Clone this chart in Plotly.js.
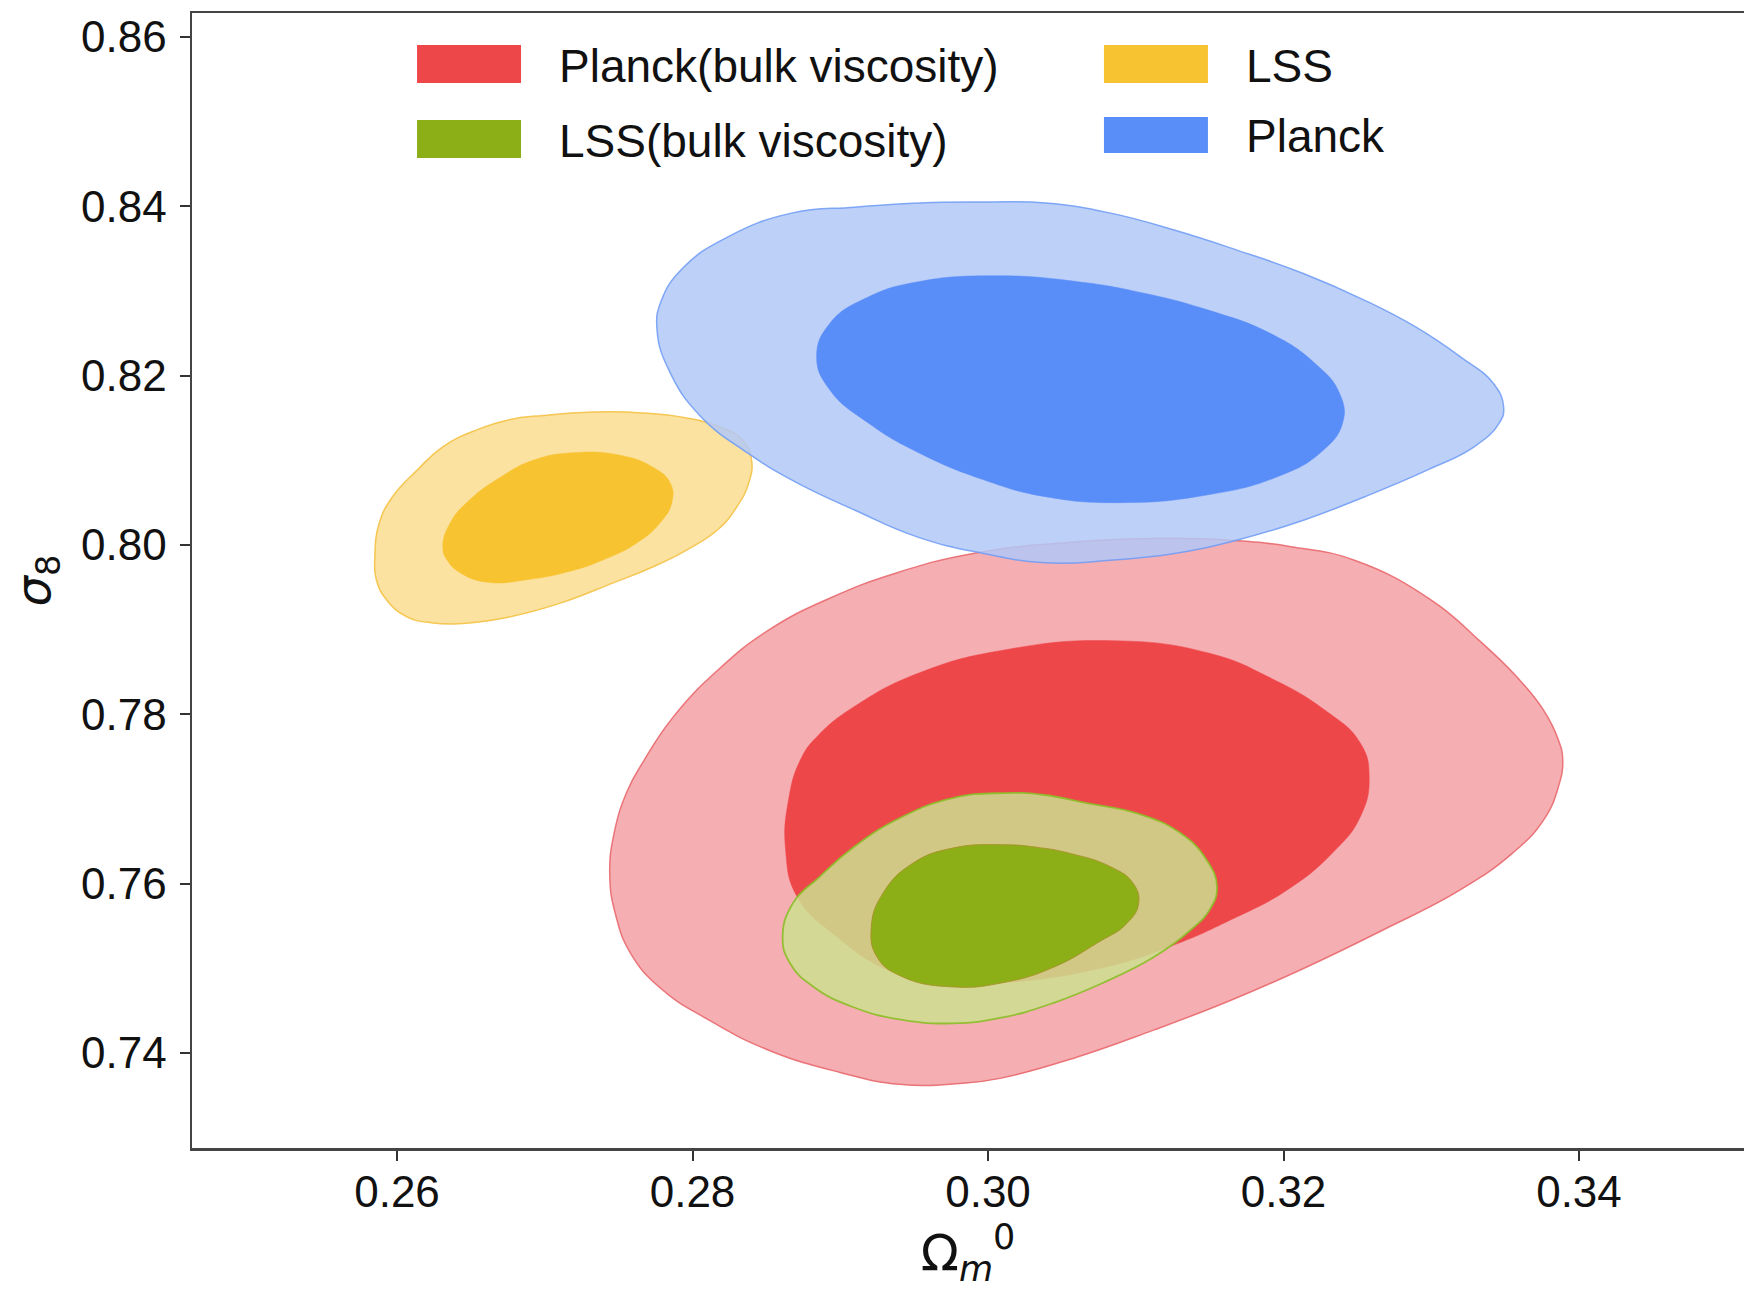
<!DOCTYPE html>
<html>
<head>
<meta charset="utf-8">
<script src="https://cdn.plot.ly/plotly-3.0.1.min.js"></script>
<style>html,body{margin:0;padding:0;background:#fff;}#chart{width:1744px;height:1292px;}</style>
</head>
<body>
<div id="chart"></div>
<script>
// ---- Data: contour outlines (Omega_m^0, sigma_8) ----
const planckBulkOuterX = [0.3119,0.3162,0.3205,0.3248,0.3300,0.3332,0.3358,0.3376,0.3386,0.3389,0.3386,0.3376,0.3355,0.3319,0.3267,0.3215,0.3164,0.3112,0.3060,0.3008,0.2981,0.2940,0.2900,0.2852,0.2810,0.2778,0.2758,0.2748,0.2744,0.2747,0.2756,0.2767,0.2787,0.2817,0.2852,0.2894,0.2938,0.2990,0.3054,0.3119];
const planckBulkOuterY = [0.8008,0.8006,0.7998,0.7982,0.7935,0.7888,0.7844,0.7805,0.7770,0.7746,0.7714,0.7675,0.7636,0.7592,0.7545,0.7501,0.7462,0.7427,0.7395,0.7370,0.7364,0.7363,0.7377,0.7403,0.7440,0.7477,0.7518,0.7563,0.7610,0.7660,0.7710,0.7745,0.7797,0.7852,0.7900,0.7938,0.7967,0.7990,0.8003,0.8008];
const planckBulkInnerX = [0.3085,0.3150,0.3190,0.3228,0.3252,0.3258,0.3252,0.3233,0.3202,0.3164,0.3125,0.3076,0.3010,0.2965,0.2932,0.2898,0.2871,0.2863,0.2865,0.2873,0.2885,0.2912,0.2955,0.3011,0.3085];
const planckBulkInnerY = [0.7887,0.7872,0.7844,0.7805,0.7766,0.7726,0.7679,0.7636,0.7592,0.7557,0.7527,0.7500,0.7483,0.7483,0.7498,0.7537,0.7584,0.7640,0.7699,0.7746,0.7775,0.7812,0.7850,0.7876,0.7887];

const lssBulkOuterX = [0.3010,0.3037,0.3067,0.3101,0.3130,0.3148,0.3155,0.3150,0.3137,0.3112,0.3078,0.3044,0.3010,0.2976,0.2942,0.2909,0.2882,0.2866,0.2861,0.2868,0.2886,0.2909,0.2942,0.2976,0.3010];
const lssBulkOuterY = [0.7707,0.7705,0.7695,0.7683,0.7660,0.7628,0.7596,0.7569,0.7545,0.7513,0.7483,0.7459,0.7442,0.7435,0.7439,0.7454,0.7478,0.7506,0.7537,0.7577,0.7608,0.7643,0.7679,0.7701,0.7707];
const lssBulkInnerX = [0.3010,0.3033,0.3055,0.3083,0.3098,0.3102,0.3094,0.3074,0.3044,0.3010,0.2976,0.2942,0.2925,0.2921,0.2929,0.2949,0.2976,0.3010];
const lssBulkInnerY = [0.7646,0.7643,0.7636,0.7620,0.7601,0.7577,0.7553,0.7530,0.7501,0.7483,0.7478,0.7490,0.7513,0.7549,0.7589,0.7624,0.7642,0.7646];

const lssOuterX = [0.2733,0.2766,0.2796,0.2819,0.2834,0.2840,0.2838,0.2830,0.2817,0.2796,0.2773,0.2746,0.2710,0.2676,0.2649,0.2624,0.2607,0.2593,0.2586,0.2585,0.2588,0.2597,0.2614,0.2631,0.2654,0.2676,0.2699,0.2733];
const lssOuterY = [0.8157,0.8156,0.8150,0.8139,0.8124,0.8100,0.8073,0.8045,0.8018,0.7994,0.7974,0.7955,0.7931,0.7915,0.7908,0.7908,0.7915,0.7935,0.7959,0.7986,0.8026,0.8057,0.8089,0.8116,0.8136,0.8148,0.8153,0.8157];
const lssInnerX = [0.2719,0.2751,0.2773,0.2785,0.2786,0.2778,0.2762,0.2739,0.2715,0.2688,0.2661,0.2643,0.2634,0.2631,0.2636,0.2649,0.2670,0.2692,0.2719];
const lssInnerY = [0.8109,0.8106,0.8092,0.8073,0.8050,0.8026,0.8002,0.7982,0.7968,0.7959,0.7956,0.7967,0.7982,0.7998,0.8026,0.8053,0.8080,0.8100,0.8109];

const planckOuterX = [0.2997,0.3039,0.3083,0.3126,0.3169,0.3213,0.3255,0.3290,0.3320,0.3342,0.3349,0.3346,0.3329,0.3298,0.3255,0.3213,0.3169,0.3126,0.3083,0.3039,0.2997,0.2953,0.2910,0.2867,0.2837,0.2806,0.2785,0.2776,0.2779,0.2794,0.2824,0.2867,0.2910,0.2954,0.2997];
const planckOuterY = [0.8405,0.8404,0.8392,0.8372,0.8348,0.8321,0.8289,0.8257,0.8222,0.8191,0.8163,0.8144,0.8116,0.8089,0.8057,0.8029,0.8006,0.7990,0.7982,0.7979,0.7990,0.8009,0.8041,0.8077,0.8109,0.8151,0.8203,0.8254,0.8289,0.8328,0.8364,0.8392,0.8399,0.8404,0.8405];
const planckInnerX = [0.3005,0.3061,0.3104,0.3148,0.3191,0.3221,0.3238,0.3240,0.3225,0.3195,0.3148,0.3091,0.3039,0.2997,0.2953,0.2919,0.2893,0.2884,0.2893,0.2919,0.2953,0.3005];
const planckInnerY = [0.8318,0.8311,0.8298,0.8278,0.8250,0.8215,0.8179,0.8144,0.8109,0.8080,0.8059,0.8050,0.8057,0.8077,0.8109,0.8144,0.8183,0.8222,0.8262,0.8293,0.8311,0.8318];

const seriesNames = ['Planck(bulk viscosity)', 'LSS(bulk viscosity)', 'LSS', 'Planck'];
const xTickVals = [0.26, 0.28, 0.30, 0.32, 0.34];
const yTickVals = [0.74, 0.76, 0.78, 0.80, 0.82, 0.84, 0.86];

// ---- Styles ----
const styles = {
  red:    {inner:'rgb(238,71,74)',  outer:'rgba(243,160,164,0.85)', edge:'rgba(232,100,104,0.85)'},
  green:  {inner:'rgb(140,175,24)', outer:'rgba(204,223,143,0.85)', edge:'rgba(140,190,40,0.9)'},
  yellow: {inner:'rgb(248,195,48)', outer:'rgba(250,221,143,0.85)', edge:'rgba(244,194,70,0.9)'},
  blue:   {inner:'rgb(89,141,248)', outer:'rgba(177,200,247,0.85)', edge:'rgba(110,155,245,0.85)'}
};

function region(x, y, fill, edge, w) {
  return {
    x: x, y: y, type: 'scatter', mode: 'lines', fill: 'toself',
    fillcolor: fill,
    line: {color: edge, width: w, shape: 'spline', smoothing: 1.3},
    hoverinfo: 'skip', showlegend: false
  };
}

const traces = [
  region(planckBulkOuterX, planckBulkOuterY, styles.red.outer, styles.red.edge, 1.5),
  region(planckBulkInnerX, planckBulkInnerY, styles.red.inner, styles.red.inner, 0.5),
  region(lssBulkOuterX, lssBulkOuterY, styles.green.outer, styles.green.edge, 1.8),
  region(lssBulkInnerX, lssBulkInnerY, styles.green.inner, 'rgba(170,140,40,0.8)', 1),
  region(lssOuterX, lssOuterY, styles.yellow.outer, styles.yellow.edge, 1.5),
  region(lssInnerX, lssInnerY, styles.yellow.inner, styles.yellow.inner, 0.5),
  region(planckOuterX, planckOuterY, styles.blue.outer, styles.blue.edge, 1.5),
  region(planckInnerX, planckInnerY, styles.blue.inner, styles.blue.inner, 0.5)
];

// ---- Legend (manual, matplotlib-style 2 columns) ----
const legendItems = [
  {name: seriesNames[0], color: styles.red.inner,    x0: 0.1450, x1: 0.2120, y0: 0.9383, y1: 0.9718, tx: 0.2349, ty: 0.9530},
  {name: seriesNames[1], color: styles.green.inner,  x0: 0.1450, x1: 0.2120, y0: 0.8722, y1: 0.9057, tx: 0.2349, ty: 0.8870},
  {name: seriesNames[2], color: styles.yellow.inner, x0: 0.5876, x1: 0.6546, y0: 0.9383, y1: 0.9718, tx: 0.6780, ty: 0.9535},
  {name: seriesNames[3], color: styles.blue.inner,   x0: 0.5876, x1: 0.6546, y0: 0.8766, y1: 0.9084, tx: 0.6780, ty: 0.8920}
];
const shapes = legendItems.map(it => ({
  type: 'rect', xref: 'paper', yref: 'paper', x0: it.x0, x1: it.x1, y0: it.y0, y1: it.y1,
  fillcolor: it.color, line: {width: 0}, layer: 'above'
}));
const annotations = legendItems.map(it => ({
  xref: 'paper', yref: 'paper', x: it.tx, y: it.ty, xanchor: 'left', yanchor: 'middle',
  text: it.name, showarrow: false,
  font: {family: 'Liberation Sans, Arial, sans-serif', size: 46, color: '#111'}
}));

const axisFont = {family: 'Liberation Sans, Arial, sans-serif', size: 44, color: '#111'};

const layout = {
  width: 1744, height: 1292,
  margin: {l: 192, r: 0, t: 13, b: 144, pad: 0},
  paper_bgcolor: '#fff', plot_bgcolor: '#fff',
  showlegend: false,
  hovermode: false,
  xaxis: {
    range: [0.246125, 0.351168],
    tickvals: xTickVals, tickformat: '.2f',
    ticks: 'outside', ticklen: 10, tickwidth: 2, tickcolor: '#333',
    ticklabelstandoff: -6,
    showline: true, linecolor: '#444', linewidth: 2.5, mirror: true,
    showgrid: false, zeroline: false,
    tickfont: axisFont,
    title: {text: 'Ω<sub><i>m</i></sub><sup>0</sup>', font: {family: 'DejaVu Sans, sans-serif', size: 50, color: '#111'}, standoff: 20}
  },
  yaxis: {
    range: [0.728777, 0.862835],
    tickvals: yTickVals, tickformat: '.2f',
    ticks: 'outside', ticklen: 10, tickwidth: 2, tickcolor: '#333',
    ticklabelstandoff: 4,
    showline: true, linecolor: '#444', linewidth: 2.5, mirror: false,
    showgrid: false, zeroline: false,
    tickfont: axisFont,
    title: {text: '<i>σ</i><sub>8</sub>', font: {family: 'DejaVu Sans, sans-serif', size: 48, color: '#111'}, standoff: 16}
  },
  shapes: shapes,
  annotations: annotations
};

Plotly.newPlot('chart', traces, layout, {displayModeBar: false, staticPlot: true});
</script>
</body>
</html>
